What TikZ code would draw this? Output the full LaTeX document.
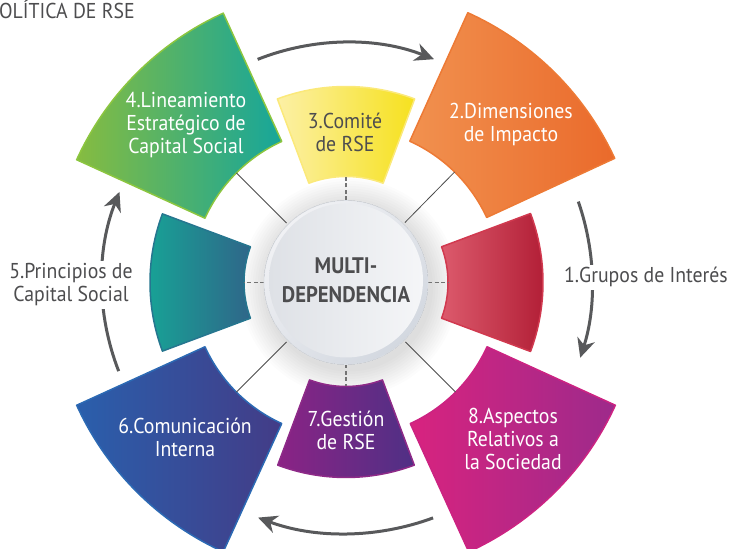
\documentclass[tikz,border=0pt]{standalone}
\usepackage{fontspec}
\setmainfont{PT Sans}[FakeStretch=0.92]
\usetikzlibrary{arrows.meta,calc}
\definecolor{txtgray}{HTML}{4D4D4F}
\definecolor{arrgray}{HTML}{58595B}
\definecolor{greenL}{HTML}{86BC40}\definecolor{greenR}{HTML}{16A69A}\definecolor{greenB}{HTML}{8CC63F}
\definecolor{yelL}{HTML}{FCF0A6}\definecolor{yelR}{HTML}{F6E11E}\definecolor{yelB}{HTML}{FBE97A}
\definecolor{orL}{HTML}{F1914F}\definecolor{orR}{HTML}{EA6A2B}\definecolor{orB}{HTML}{ED7A35}
\definecolor{redL}{HTML}{DC5A6C}\definecolor{redR}{HTML}{B11D35}\definecolor{redB}{HTML}{D1394F}
\definecolor{tealL}{HTML}{17A396}\definecolor{tealR}{HTML}{2F6689}\definecolor{tealB}{HTML}{26768F}
\definecolor{bluL}{HTML}{2A5FAC}\definecolor{bluR}{HTML}{433C87}\definecolor{bluB}{HTML}{2C6AB4}
\definecolor{purL}{HTML}{8B2385}\definecolor{purR}{HTML}{4F3085}\definecolor{purB}{HTML}{8E2A88}
\definecolor{magL}{HTML}{D8237F}\definecolor{magR}{HTML}{9D2A8B}\definecolor{magB}{HTML}{CC2382}
\definecolor{rimA}{HTML}{F0F1F4}\definecolor{rimB}{HTML}{D3D8E0}
\definecolor{faceL}{HTML}{DEE1E6}\definecolor{faceR}{HTML}{F5F6F8}
\newcommand\ringsector[5]{\path[#5] ($(C)+(#1:#3)$) arc[start angle=#1, end angle=#2, radius=#3] -- ($(C)+(#2:#4)$) arc[start angle=#2, end angle=#1, radius=#4] -- cycle;}
\tikzset{
  secedge/.style={line width=1.5pt, line join=round},
  lab/.style={font=\fontsize{21.5}{23}\selectfont, align=center, text=white, anchor=base, inner sep=0pt},
  darklab/.style={lab, text=txtgray},
  cyc/.style={draw=arrgray, line width=3pt, -{Stealth[length=19pt,width=18pt,inset=6pt]}},
  link/.style={draw=black!70, line width=0.8pt},
  dlink/.style={draw=black!55, line width=1.6pt, dash pattern=on 4pt off 2.5pt},
  hub/.style={circle, minimum size=154pt, inner sep=0pt, left color=faceL, right color=faceR,
    font=\fontsize{22.5}{29}\selectfont\bfseries, text=txtgray, align=center}
}
\begin{document}
\begin{tikzpicture}[x=1pt,y=1pt]
\useasboundingbox (0,0) rectangle (729,549);
\coordinate (C) at (346,266.5);
% circle shadow
\foreach \r in {84,86.5,...,109} \fill[black,opacity=0.013] ($(C)+(3,-5)$) circle (\r pt);
% sectors
\ringsector{-20.5}{20.5}{102pt}{197pt}{secedge, left color=redL, right color=redR, draw=redB}
\ringsector{69.5}{110.5}{106pt}{196pt}{secedge, left color=yelL, right color=yelR, draw=yelB}
\ringsector{159.5}{200.5}{102pt}{196pt}{secedge, left color=tealL, right color=tealR, draw=tealB}
\ringsector{249.5}{290.5}{104pt}{195pt}{secedge, left color=purL, right color=purR, draw=purB}
\ringsector{24.8}{65.7}{155pt}{296pt}{secedge, left color=orL, right color=orR, draw=orB}
\ringsector{114.5}{155.5}{155pt}{296pt}{secedge, left color=greenL, right color=greenR, draw=greenB}
\ringsector{204.5}{245.5}{155pt}{296pt}{secedge, left color=bluL, right color=bluR, draw=bluB}
\ringsector{294.5}{335.5}{155pt}{296pt}{secedge, left color=magL, right color=magR, draw=magB}
% links
\foreach \a/\n in {45.5/ne,135/nw,225/sw,315/se}{
  \coordinate (h\n) at ($(C)+(\a:84pt)$);
  \coordinate (s\n) at ($(C)+(\a:155pt)$);
  \draw[link] (h\n) -- (s\n);}
\foreach \a/\n/\r in {0/e/102,90/n/106,180/w/102,270/s/104}{
  \coordinate (h\n) at ($(C)+(\a:82pt)$);
  \coordinate (s\n) at ($(C)+(\a:\r pt)$);
  \draw[dlink] (h\n) -- (s\n);}
% hub
\fill[left color=rimA, right color=rimB, shading angle=45] (C) circle (82pt);
\draw[rimB!80, line width=0.6pt] (C) circle (82pt);
\node[hub] (hub) at ($(C)+(0,2)$) {MULTI-\\DEPENDENCIA};
% cycle arrows
\draw[cyc] ($(C)+(111.6:240pt)$) arc[start angle=111.6, end angle=68.5, radius=240pt];
\draw[cyc] ($(C)+(19.2:246pt)$) arc[start angle=19.2, end angle=-17.8, radius=246pt];
\draw[cyc] ($(C)+(290.3:251pt)$) arc[start angle=290.3, end angle=249.5, radius=251pt];
\draw[cyc] ($(C)+(201.3:244pt)$) arc[start angle=201.3, end angle=158.2, radius=244pt];
% labels (anchor base = last line baseline)
\node[darklab, anchor=base west, fill=white, inner sep=3pt] (l1) at (561,266) {1.Grupos de Interés};
\node[lab] (l2) at (511,407) {2.Dimensiones\\de Impacto};
\node[darklab] (l3) at (345,397) {3.Comité\\de RSE};
\node[lab] (l4) at (186,395) {4.Lineamiento\\Estratégico de\\Capital Social};
\node[darklab, fill=white, inner sep=3pt] (l5) at (71,247) {5.Principios de\\Capital Social};
\node[lab] (l6) at (185,92) {6.Comunicación\\Interna};
\node[lab] (l7) at (346,99) {7.Gestión\\de RSE};
\node[lab] (l8) at (513,79) {8.Aspectos\\Relativos a\\la Sociedad};
\node[darklab, anchor=base west] (hdr) at (-1,530) {OLÍTICA DE RSE};
\end{tikzpicture}
\end{document}
